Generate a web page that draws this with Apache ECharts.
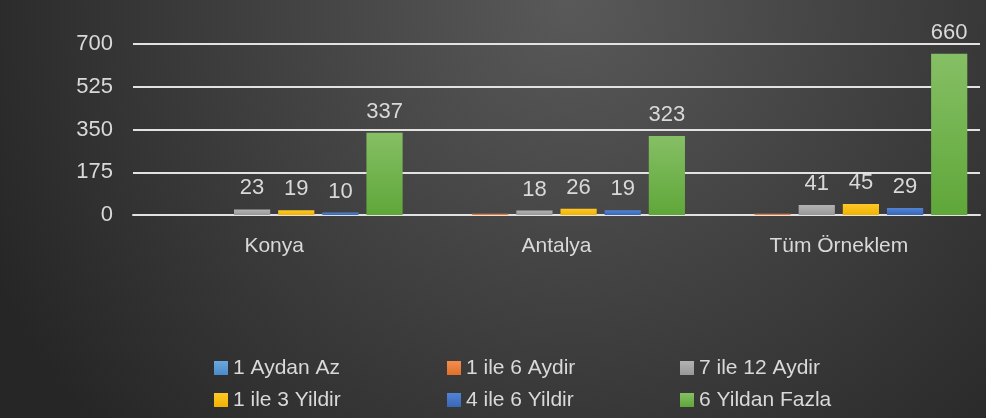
<!DOCTYPE html>
<html>
<head>
<meta charset="utf-8">
<script src="https://cdn.jsdelivr.net/npm/echarts@6/dist/echarts.min.js"></script>
<style>
  html, body { margin: 0; padding: 0; background: #2a2a2a; }
  #chart { width: 986px; height: 418px; }
</style>
</head>
<body>
<div id="chart"></div>
<script>
// kategoriler ve seriler
var categories = ['Konya', 'Antalya', 'Tüm Örneklem']
var seriesNames = ['1 Aydan Az', '1 ile 6 Aydir', '7 ile 12 Aydir', '1 ile 3 Yildir', '4 ile 6 Yildir', '6 Yildan Fazla']
var aydanAz = [0, 0, 0]
var ay1to6 = [0, 5, 5]
var ay7to12 = [23, 18, 41]
var yil1to3 = [19, 26, 45]
var yil4to6 = [10, 19, 29]
var yil6plus = [337, 323, 660]
var yTicks = [0, 175, 350, 525, 700]

// renkler (üst, alt)
var colors = [
  ['#6ba8de', '#4a8bc8'],
  ['#f38d4f', '#e0702a'],
  ['#b3b3b3', '#989898'],
  ['#ffc829', '#efb300'],
  ['#5184d6', '#3a66b6'],
  ['#86bf65', '#5fa739']
]
var values = [aydanAz, ay1to6, ay7to12, yil1to3, yil4to6, yil6plus]
var textColor = '#d9d9d9'
var fontFamily = 'Liberation Sans, Arial, sans-serif'

var myChart = echarts.init(document.getElementById('chart'))

var series = values.map(function (v, i) {
  return {
    name: seriesNames[i],
    type: 'bar',
    data: v,
    barGap: '22%',
    barCategoryGap: '9%',
    itemStyle: {
      color: new echarts.graphic.LinearGradient(0, 0, 0, 1, [
        { offset: 0, color: colors[i][0] },
        { offset: 1, color: colors[i][1] }
      ])
    },
    label: {
      show: i >= 2,
      position: 'top',
      distance: 10,
      color: textColor,
      fontSize: 22,
      fontFamily: fontFamily
    }
  }
})

var option = {
  animation: false,
  graphic: [{
    type: 'rect',
    z: -10,
    silent: true,
    shape: { x: 0, y: 0, width: 986, height: 418 },
    style: {
      fill: new echarts.graphic.RadialGradient(570, 0, 640, [
        { offset: 0, color: '#595959' },
        { offset: 1, color: '#262626' }
      ], true)
    }
  }],
  grid: {
    left: 133,
    right: 6,
    top: 44,
    bottom: 203
  },
  legend: {
    data: seriesNames,
    left: 214,
    top: 354,
    width: 700,
    padding: 0,
    icon: 'rect',
    itemWidth: 14,
    itemHeight: 14,
    itemGap: 4,
    textStyle: {
      color: textColor,
      fontSize: 21,
      width: 210,
      lineHeight: 28,
      fontFamily: fontFamily
    }
  },
  xAxis: {
    type: 'category',
    data: categories,
    axisTick: { show: false },
    axisLine: { lineStyle: { color: '#e2e2e2', width: 2 } },
    axisLabel: {
      color: textColor,
      fontSize: 21,
      margin: 21,
      fontFamily: fontFamily
    }
  },
  yAxis: {
    type: 'value',
    min: yTicks[0],
    max: yTicks[yTicks.length - 1],
    interval: 175,
    axisLine: { show: false },
    axisTick: { show: false },
    splitLine: { lineStyle: { color: '#e2e2e2', width: 2 } },
    axisLabel: {
      color: textColor,
      fontSize: 22,
      margin: 20,
      fontFamily: fontFamily
    }
  },
  series: series
}

myChart.setOption(option)
</script>
</body>
</html>
